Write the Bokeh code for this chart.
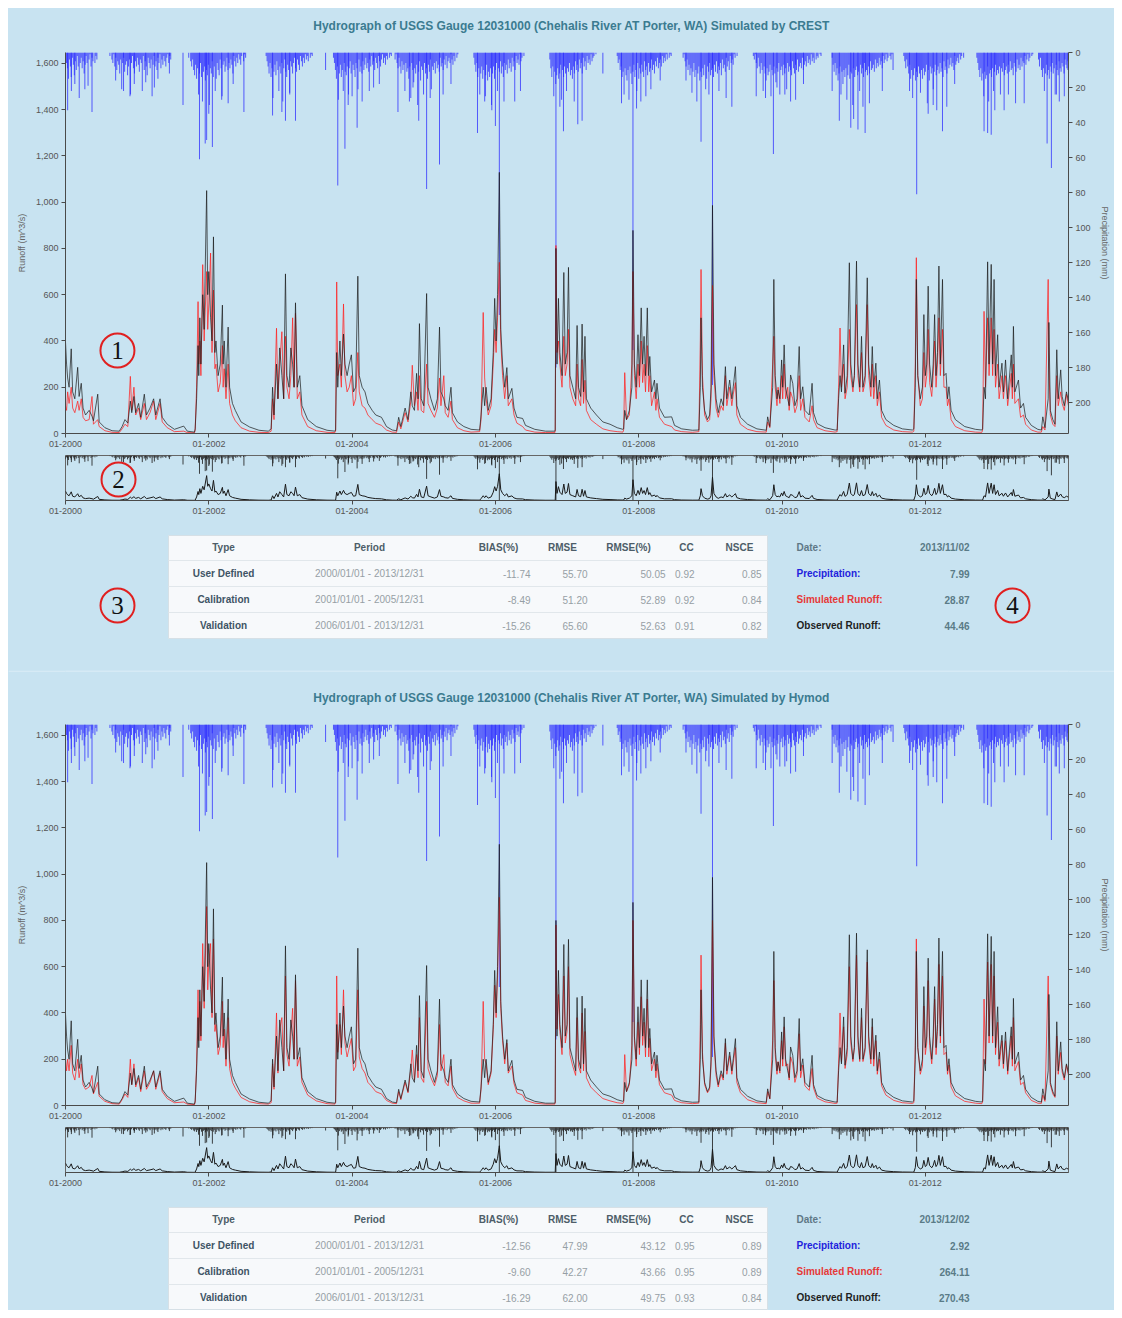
import numpy as np
from bokeh.plotting import figure
from bokeh.layouts import column
from bokeh.models import Range1d, LinearAxis, FixedTicker, DatetimeTickFormatter, NumeralTickFormatter
from bokeh.embed import file_html
from bokeh.resources import INLINE
from bokeh.core.properties import value

# ---------------- DATA ----------------
# runoff key points, decimal years
runoff_t = [
 2000.000,2000.015,2000.030,2000.050,2000.080,2000.100,2000.130,2000.170,2000.190,2000.220,2000.245,2000.280,2000.330,2000.370,2000.390,2000.450,2000.470,2000.550,2000.650,2000.750,
 2000.790,2000.830,2000.870,2000.905,2000.925,2000.955,2000.980,2001.020,2001.050,2001.100,2001.130,2001.180,2001.230,2001.260,2001.320,2001.350,2001.420,2001.520,2001.650,2001.700,2001.800,
 2001.810,2001.830,2001.850,2001.860,2001.875,2001.890,2001.915,2001.935,2001.970,2001.985,2002.000,2002.025,2002.045,2002.065,2002.085,2002.100,2002.130,2002.160,2002.190,2002.200,2002.215,2002.240,2002.270,2002.290,2002.330,2002.370,2002.450,2002.570,2002.700,2002.830,
 2002.870,2002.890,2002.910,2002.945,2002.965,2002.990,2003.020,2003.045,2003.070,2003.090,2003.120,2003.145,2003.170,2003.190,2003.210,2003.235,2003.270,2003.300,2003.380,2003.500,2003.650,2003.760,
 2003.770,2003.785,2003.800,2003.830,2003.850,2003.880,2003.900,2003.930,2003.960,2003.990,2004.020,2004.050,2004.080,2004.100,2004.140,2004.180,2004.220,2004.280,2004.330,2004.410,2004.480,2004.560,
 2004.620,2004.650,2004.680,2004.740,2004.780,2004.820,2004.840,2004.870,2004.900,2004.920,2004.940,2004.965,2005.000,2005.040,2005.060,2005.100,2005.150,2005.190,2005.220,2005.240,2005.280,2005.300,2005.340,2005.380,2005.400,2005.470,2005.560,2005.660,
 2005.780,2005.800,2005.830,2005.850,2005.870,2005.900,2005.940,2005.970,2005.990,2006.010,2006.030,2006.055,2006.075,2006.100,2006.130,2006.160,2006.180,2006.230,2006.260,2006.300,2006.380,2006.420,2006.550,2006.700,2006.830,
 2006.835,2006.845,2006.860,2006.880,2006.900,2006.930,2006.955,2006.975,2007.000,2007.020,2007.040,2007.080,2007.120,2007.140,2007.160,2007.190,2007.210,2007.230,2007.250,2007.270,2007.330,2007.410,2007.500,2007.600,2007.700,2007.780,
 2007.790,2007.805,2007.830,2007.870,2007.905,2007.920,2007.940,2007.965,2007.990,2008.010,2008.035,2008.055,2008.075,2008.095,2008.120,2008.140,2008.155,2008.180,2008.220,2008.240,2008.255,2008.290,2008.360,2008.460,2008.500,2008.600,2008.750,
 2008.840,2008.860,2008.870,2008.890,2008.920,2008.960,2008.990,2009.010,2009.030,2009.050,2009.080,2009.110,2009.150,2009.180,2009.210,2009.230,2009.270,2009.300,2009.320,2009.350,2009.370,2009.420,2009.520,2009.650,2009.780,
 2009.800,2009.830,2009.870,2009.886,2009.905,2009.930,2009.945,2009.970,2009.995,2010.010,2010.030,2010.050,2010.080,2010.100,2010.120,2010.150,2010.180,2010.210,2010.240,2010.260,2010.290,2010.320,2010.380,2010.420,2010.440,2010.490,2010.600,2010.740,
 2010.770,2010.790,2010.810,2010.830,2010.860,2010.880,2010.910,2010.940,2010.960,2010.990,2011.010,2011.040,2011.060,2011.085,2011.110,2011.130,2011.160,2011.190,2011.210,2011.240,2011.260,2011.280,2011.310,2011.330,2011.360,2011.390,2011.450,2011.560,2011.680,2011.820,
 2011.840,2011.860,2011.875,2011.895,2011.930,2011.960,2011.980,2012.000,2012.020,2012.040,2012.060,2012.090,2012.110,2012.130,2012.150,2012.170,2012.190,2012.210,2012.240,2012.260,2012.290,2012.310,2012.330,2012.360,2012.420,2012.550,2012.700,2012.790,
 2012.800,2012.820,2012.840,2012.870,2012.890,2012.920,2012.940,2012.960,2012.980,2013.010,2013.030,2013.070,2013.090,2013.120,2013.150,2013.200,2013.215,2013.230,2013.250,2013.300,2013.330,2013.370,2013.400,2013.480,2013.570,
 2013.620,2013.640,2013.670,2013.715,2013.725,2013.745,2013.780,2013.810,2013.835,2013.855,2013.890,2013.910,2013.940,2013.970,2013.998]

runoff_obs = [
 395,300,240,200,366,180,150,286,160,217,110,80,100,75,55,170,50,25,12,10,
 30,60,45,140,90,160,90,130,70,170,80,110,150,80,150,70,40,18,32,10,6,
 20,150,380,250,500,300,600,450,1050,600,700,500,400,850,350,400,250,300,555,300,400,200,460,200,130,100,50,28,14,10,
 20,200,80,300,150,370,250,150,690,250,200,370,300,200,565,200,250,120,60,30,14,10,
 15,350,200,400,250,430,300,250,300,340,180,200,680,250,200,180,130,100,80,70,30,15,
 12,70,30,110,60,180,120,100,260,150,475,150,120,605,200,150,100,150,460,180,150,120,100,200,90,50,30,18,
 15,80,200,120,200,100,150,350,584,400,600,1129,450,300,200,285,150,195,110,70,65,35,18,10,10,
 15,800,300,584,350,250,696,300,350,718,250,200,150,467,200,160,473,180,420,150,110,80,50,40,25,18,
 20,100,60,100,200,878,300,200,427,250,543,300,420,250,543,250,333,180,231,150,217,110,70,72,35,20,14,
 15,200,500,200,100,60,80,200,986,300,150,90,150,120,289,150,231,150,202,289,120,70,40,20,14,
 72,30,200,666,250,150,188,150,318,200,383,200,150,120,253,217,120,150,376,150,202,100,80,217,90,43,25,15,
 15,150,250,180,383,174,250,738,300,200,250,745,300,200,420,200,250,673,300,200,376,200,304,150,231,100,60,35,20,15,
 20,200,666,250,150,200,514,250,300,637,300,200,300,514,250,350,724,300,666,250,260,150,202,100,60,30,18,15,
 20,200,150,742,300,731,300,666,250,427,200,304,180,318,150,340,200,463,180,231,110,130,70,35,18,
 15,72,25,150,480,100,60,40,362,150,275,160,120,180,140]

runoff_crest = [
 120,100,180,130,200,110,90,140,100,150,70,55,60,160,40,60,30,12,5,4,
 20,40,30,247,100,200,80,110,60,130,60,90,140,60,130,50,25,8,10,4,3,
 15,200,570,300,400,250,730,400,700,450,560,780,350,620,280,300,180,220,380,200,280,150,300,130,80,55,25,10,5,4,
 10,150,60,455,150,300,440,150,420,200,150,250,500,200,520,150,180,80,30,12,5,4,
 10,655,250,300,200,560,250,180,200,250,120,150,350,180,120,110,80,60,45,35,15,6,
 5,50,20,90,50,140,295,120,180,100,250,100,90,300,130,100,70,110,240,120,250,90,70,140,60,25,12,6,
 8,60,523,240,150,80,120,300,450,350,500,740,400,250,150,250,120,150,80,45,30,15,6,4,4,
 10,813,350,400,300,200,420,250,300,450,200,150,120,300,150,120,320,130,230,100,60,40,20,12,8,6,
 15,263,60,80,300,700,250,150,300,200,400,220,300,180,380,180,250,120,180,100,150,70,40,30,15,8,5,
 8,400,709,250,80,50,60,150,640,250,110,70,120,100,250,120,200,120,170,220,80,40,18,8,6,
 50,25,300,420,200,120,200,130,250,150,300,150,200,100,180,150,90,120,250,100,150,70,50,120,60,25,12,6,
 8,200,456,200,300,150,200,450,250,180,250,557,250,180,350,180,220,557,250,160,300,150,250,120,180,70,35,15,8,6,
 10,300,760,250,120,150,350,200,250,450,220,160,250,400,200,300,500,250,450,200,200,120,150,60,30,12,6,5,
 15,528,200,500,250,500,250,450,200,300,150,250,150,250,120,260,150,300,130,150,70,80,40,15,6,
 6,30,15,666,300,80,40,30,250,120,180,130,100,170,120]

runoff_hymod = [
 200,150,200,150,260,140,110,200,120,180,90,70,80,130,50,100,40,18,8,6,
 25,50,35,200,90,180,80,120,60,150,70,100,150,70,140,60,30,12,15,6,4,
 15,180,500,280,450,280,700,420,860,500,620,700,380,720,320,350,220,260,450,250,330,170,380,160,100,75,35,16,8,6,
 12,180,70,400,140,330,380,150,560,220,170,300,420,200,540,170,210,100,45,20,8,6,
 12,560,230,350,220,500,270,210,250,290,150,170,500,210,160,140,100,80,60,50,22,10,
 8,60,25,100,55,160,240,110,220,120,380,120,100,450,160,120,85,130,350,150,220,100,85,170,75,35,20,10,
 10,70,450,200,180,90,140,330,520,380,560,900,420,280,180,270,140,170,95,55,45,22,10,6,6,
 12,780,330,480,320,220,560,270,320,600,220,170,130,380,170,140,400,150,320,120,80,55,30,20,12,9,
 15,220,60,90,260,800,280,170,360,220,470,260,360,210,460,210,290,150,200,120,180,90,55,45,22,12,8,
 10,350,650,230,90,55,70,170,800,270,130,80,135,110,270,135,215,135,185,250,100,55,25,12,8,
 60,28,280,540,220,135,190,140,280,170,340,170,180,110,210,180,100,135,310,120,175,85,65,160,75,32,16,9,
 10,180,400,190,340,160,220,600,270,190,250,650,270,190,380,190,235,620,270,180,340,170,280,135,200,85,45,22,12,9,
 12,260,720,250,135,170,430,220,270,540,260,180,270,460,220,320,610,270,560,220,230,135,175,80,42,18,10,8,
 15,460,180,620,270,610,270,560,220,360,170,280,160,280,135,300,170,380,150,190,90,100,55,22,10,
 9,45,18,560,380,90,50,35,300,135,230,145,110,175,130]

# notable precipitation spikes (decimal year, mm)
precip_peak_t = [2000.03,2000.08,2000.13,2000.27,2000.37,
 2000.70,2000.81,2000.90,2000.96,2001.12,2001.24,2001.29,2001.45,2001.64,
 2001.87,2001.95,2001.97,2002.00,2002.05,2002.18,2002.27,2002.34,2002.49,
 2002.89,2003.02,2003.07,2003.13,2003.21,2003.63,
 2003.80,2003.90,2003.95,2004.07,2004.14,2004.24,2004.30,2004.38,
 2004.64,2004.80,2004.85,2004.93,2005.04,2005.09,2005.22,2005.27,2005.38,
 2005.75,2005.86,2005.95,2006.00,2006.055,2006.12,2006.27,2006.35,
 2006.845,2006.90,2006.95,2007.10,2007.15,2007.21,2007.50,
 2007.76,2007.920,2007.97,2008.03,2008.10,2008.17,2008.30,
 2008.66,2008.87,2008.98,2009.030,2009.12,2009.22,2009.30,
 2009.64,2009.77,2009.88,2009.93,2010.04,2010.12,2010.19,2010.30,
 2010.70,2010.80,2010.96,2011.00,2011.06,2011.13,2011.16,2011.22,2011.40,2011.55,
 2011.78,2011.88,2012.04,2012.11,2012.16,2012.24,2012.30,2012.41,
 2012.82,2012.87,2012.92,2012.97,2013.10,2013.16,2013.26,2013.38,
 2013.70,2013.76,2013.83,2013.87,2013.94,2013.99]
precip_peak_mm = [33,14,18,21,34,
 16,22,25,18,17,20,15,12,30,
 61,52,50,35,54,27,29,18,34,
 36,34,39,24,39,10,
 76,55,24,43,28,22,20,18,
 34,28,20,39,78,26,64,24,18,
 46,25,33,42,150,28,28,22,
 180,31,45,28,41,39,12,
 29,170,32,28,25,21,16,
 16,51,24,190,22,26,31,
 25,26,58,20,24,28,27,18,
 22,39,43,38,44,31,46,29,22,10,
 22,81,35,30,33,45,31,18,
 45,46,47,33,33,24,29,29,
 52,66,24,28,25,10]

# background daily-rain comb per wet season, one value every 5 days (mm)
precip_step_days = 5
precip_season_start = [2000.00, 2000.62, 2001.72, 2002.80, 2003.74, 2004.60, 2005.70, 2006.76,
                       2007.70, 2008.62, 2009.60, 2010.70, 2011.70, 2012.72, 2013.58]
precip_season_mm = [
 [12,6,9,15,4,8,22,3,7,13,5,10,2,8,26,6,3,9,5,12,7,2,6,19,4,1,8,3,5,0,6,2,4],
 [2,0,4,6,1,8,3,10,5,7,12,4,21,6,3,11,7,5,13,8,4,24,6,2,9,12,5,8,3,7,11,4,6,22,2,10,5,8,13,3,6,9,4,25,7,2,8,5,10,3,6,1,9,4,7,2,5,8,3,1,6,2,4,0],
 [3,0,5,8,4,10,13,7,15,9,24,12,6,14,28,11,8,16,10,13,7,30,9,12,5,14,8,22,15,6,10,13,4,9,25,7,5,11,8,3,10,6,9,4,7,12,2,5,8,3,6,1,4,7,2,0,5,1,3,0],
 [2,5,8,12,6,14,9,26,11,7,13,5,10,22,8,12,6,28,9,4,11,14,7,10,23,5,8,12,6,3,9,11,4,7,10,2,5,8,3,6,1,4,2,5,0,3,1,2],
 [3,6,10,15,8,27,12,7,14,10,22,6,11,13,8,30,9,5,12,25,7,10,14,6,9,21,4,11,8,12,5,10,7,3,9,6,11,4,8,2,7,5,10,3,6,9,2,5,8,4,1,6,3,7,2,4,0,3,1,2],
 [4,1,6,9,3,8,12,5,10,7,22,6,11,9,15,8,26,6,10,17,9,12,7,30,11,5,16,8,10,24,6,12,9,15,7,11,4,21,8,10,6,12,5,9,7,11,3,8,6,10,4,7,2,9,5,3,6,1,4,7,2,5,0,3,1],
 [3,7,11,6,14,9,24,12,8,15,10,28,13,7,16,11,14,9,30,12,8,15,10,6,22,9,11,5,12,8,14,6,10,7,12,4,9,6,11,3,8,5,10,2,6,4,7,1,5,3,0,2],
 [4,9,14,8,25,11,18,13,9,15,12,7,27,10,14,8,12,22,9,11,6,13,10,15,8,12,5,10,7,11,4,9,6,12,3,8,5,10,2,6,4,7,1,5,3,2,0,1],
 [2,6,4,10,8,14,11,24,9,13,16,10,27,8,12,18,11,7,14,10,22,6,15,9,12,7,11,14,5,10,8,13,6,11,9,4,10,7,12,5,8,3,9,6,4,8,2,6,3,5,1,4,0,3,1,2],
 [3,1,5,8,4,10,7,13,9,23,11,6,14,10,28,12,8,16,11,14,9,13,7,21,15,8,11,6,13,10,9,14,7,11,5,12,8,10,6,13,4,9,7,11,3,8,5,10,2,6,4,7,1,3,0,2],
 [2,4,1,6,9,3,8,12,6,10,22,8,12,16,9,13,11,7,25,10,13,8,12,17,9,11,6,24,10,8,13,7,12,9,21,6,11,8,10,13,5,9,12,7,10,4,11,8,6,9,3,10,7,5,8,2,6,4,7,1,5,3,6,0,4,2,3,0,1,2],
 [3,7,11,6,13,9,16,12,8,24,11,18,10,14,9,27,13,7,15,11,12,30,9,14,10,8,13,11,22,7,12,9,14,6,11,10,13,8,12,5,10,9,7,11,4,9,6,8,3,7,5,9,2,6,4,1,5,3,0,2,4,1],
 [2,5,9,4,8,12,7,15,10,26,13,9,16,11,14,8,12,23,10,15,9,13,11,7,29,10,16,8,12,9,21,11,7,13,10,8,12,6,11,9,14,5,10,8,12,4,9,7,3,8,6,10,2,7,5,3,6,1,4,2,0,3],
 [3,6,10,14,9,16,12,25,11,15,13,8,28,12,10,14,9,22,11,7,13,10,12,8,24,9,11,6,13,10,8,12,7,11,5,10,9,13,6,8,11,4,9,7,10,3,8,5,6,2,7,4,1,5,3,0,2,1],
 [4,8,3,10,14,9,22,12,7,13,10,15,8,11,6,12,9,24,7,10,13,5,9,11,6,8,12,4,7,9,5]]

x_tick_years = [2000, 2002, 2004, 2006, 2008, 2010, 2012]
runoff_ticks = [0, 200, 400, 600, 800, 1000, 1200, 1400, 1600]
precip_ticks = [0, 20, 40, 60, 80, 100, 120, 140, 160, 180, 200]

titles = ["Hydrograph of USGS Gauge 12031000 (Chehalis River AT Porter, WA) Simulated by CREST",
          "Hydrograph of USGS Gauge 12031000 (Chehalis River AT Porter, WA) Simulated by Hymod"]
table_header = ["Type", "Period", "BIAS(%)", "RMSE", "RMSE(%)", "CC", "NSCE"]
table_type = ["User Defined", "Calibration", "Validation"]
table_period = ["2000/01/01 - 2013/12/31", "2001/01/01 - 2005/12/31", "2006/01/01 - 2013/12/31"]
crest_bias = ["-11.74", "-8.49", "-15.26"]
crest_rmse = ["55.70", "51.20", "65.60"]
crest_rmsep = ["50.05", "52.89", "52.63"]
crest_cc = ["0.92", "0.92", "0.91"]
crest_nsce = ["0.85", "0.84", "0.82"]
hymod_bias = ["-12.56", "-9.60", "-16.29"]
hymod_rmse = ["47.99", "42.27", "62.00"]
hymod_rmsep = ["43.12", "43.66", "49.75"]
hymod_cc = ["0.95", "0.95", "0.93"]
hymod_nsce = ["0.89", "0.89", "0.84"]
info_labels = ["Date:", "Precipitation:", "Simulated Runoff:", "Observed Runoff:"]
crest_info = ["2013/11/02", "7.99", "28.87", "44.46"]
hymod_info = ["2013/12/02", "2.92", "264.11", "270.43"]

# ---------------- helpers ----------------
BG = "#c8e3f1"
SEP = "#d6eaf5"
FONT = "Liberation Sans"
T0 = np.datetime64("2000-01-01T00:00:00", "ms")
EPOCH = np.datetime64("1970-01-01T00:00:00", "ms")


def to_dt(t):
    t = np.asarray(t, dtype=float)
    return T0 + np.round((t - 2000.0) * 365.25 * 86400000.0).astype("int64").astype("timedelta64[ms]")


def ms_of(d):
    return float((np.datetime64(d, "ms") - EPOCH).astype("int64"))


XS = ms_of("2000-01-01")
XE = ms_of("2013-12-31")
XTICKS = [ms_of("%d-01-01" % y) for y in x_tick_years]

n = min(len(runoff_t), len(runoff_obs), len(runoff_crest), len(runoff_hymod))
rt = to_dt(runoff_t[:n])
obs = runoff_obs[:n]
crest = runoff_crest[:n]
hymod = runoff_hymod[:n]

pt = list(precip_peak_t[:len(precip_peak_mm)])
pm = list(precip_peak_mm[:len(precip_peak_t)])
for start, vals in zip(precip_season_start, precip_season_mm):
    for i, v in enumerate(vals):
        if v > 0:
            pt.append(start + i * precip_step_days / 365.25)
            pm.append(v)
ptd = to_dt(pt)

fmt = DatetimeTickFormatter(years="%m-%Y", months="%m-%Y", days="%m-%Y", hours="%m-%Y",
                            minutes="%m-%Y", seconds="%m-%Y", milliseconds="%m-%Y")


def style_axis(ax):
    ax.axis_line_color = "#4a4a4a"
    ax.major_tick_line_color = "#4a4a4a"
    ax.minor_tick_line_color = None
    ax.major_tick_out = 4
    ax.major_tick_in = 0
    ax.major_label_text_font = FONT
    ax.major_label_text_font_size = "9px"
    ax.major_label_text_color = "#555555"
    ax.major_label_standoff = 3
    ax.axis_label_text_font = FONT
    ax.axis_label_text_font_size = "9px"
    ax.axis_label_text_font_style = "normal"
    ax.axis_label_text_color = "#666666"
    ax.axis_label_standoff = 6


def base_fig(h, **kw):
    # transparent figures on a blue page container -> no seams between frame and border
    p = figure(width=1106, height=h, output_backend="svg", toolbar_location=None, **kw)
    p.background_fill_color = None
    p.border_fill_color = None
    p.outline_line_color = None
    p.grid.visible = False
    return p


def txt(p, xs, ys, texts, align, color, bold=False, size="10px", font=FONT):
    p.text(x=xs, y=ys, text=texts, text_align=align, text_baseline="middle",
           text_font=value(font), text_font_size=size, text_color=color,
           text_font_style="bold" if bold else "normal")


def pixel_fig(h):
    # the column aligns frames, so the frame spans x = 57..1060 of the figure;
    # use figure-pixel coordinates for page furniture (titles, tables)
    return base_fig(h, x_range=Range1d(57, 1060), y_range=Range1d(h, 0),
                    min_border_left=57, min_border_right=46, min_border_top=0, min_border_bottom=0,
                    x_axis_location=None, y_axis_location=None)


def make_title(title, h, y):
    p = pixel_fig(h)
    txt(p, [563], [y], [title], "center", "#3b7b90", bold=True, size="12px")
    return p


def make_main(sim, circle):
    p = base_fig(409, x_axis_type="datetime", x_range=Range1d(XS, XE), y_range=Range1d(0, 1647),
                 min_border_left=57, min_border_right=46, min_border_top=8, min_border_bottom=20)
    p.extra_y_ranges = {"precip": Range1d(217.7, 0)}
    p.segment(x0=ptd, y0=0, x1=ptd, y1=pm, y_range_name="precip",
              line_color="#2a2aff", line_width=1, line_alpha=0.75)
    p.line(rt, sim, line_color="#ff2222", line_width=1, line_alpha=0.75)
    p.line(rt, obs, line_color="#1a1a1a", line_width=1, line_alpha=0.7)
    lax = p.left[0]
    lax.ticker = FixedTicker(ticks=runoff_ticks)
    lax.formatter = NumeralTickFormatter(format="0,0")
    lax.axis_label = "Runoff (m^3/s)"
    p.xaxis[0].ticker = FixedTicker(ticks=XTICKS)
    p.xaxis[0].formatter = fmt
    rax = LinearAxis(y_range_name="precip", ticker=FixedTicker(ticks=precip_ticks),
                     axis_label="Precipitation (mm)")
    p.add_layout(rax, "right")
    for ax in [lax, p.xaxis[0], rax]:
        style_axis(ax)
    if circle:
        cx = to_dt([2000.725])
        p.scatter(x=cx, y=[359], marker="circle", size=34, fill_alpha=0,
                  line_color="#e02020", line_width=2)
        p.text(x=cx, y=[359], text=["1"], text_font=value("Liberation Serif"), text_font_size="25px",
               text_align="center", text_baseline="middle", text_color="#111111")
    return p


def make_nav(circle):
    p = base_fig(71, x_axis_type="datetime", x_range=Range1d(XS, XE), y_range=Range1d(0, 1900),
                 y_axis_location=None,
                 min_border_left=57, min_border_right=46, min_border_top=2, min_border_bottom=24)
    p.outline_line_color = "#666666"
    p.extra_y_ranges = {"precip": Range1d(150, 0)}
    p.segment(x0=ptd, y0=0, x1=ptd, y1=pm, y_range_name="precip",
              line_color="#222222", line_width=1, line_alpha=0.85)
    p.line(rt, obs, line_color="#1a1a1a", line_width=1)
    p.xaxis[0].ticker = FixedTicker(ticks=XTICKS)
    p.xaxis[0].formatter = fmt
    style_axis(p.xaxis[0])
    if circle:
        cx = to_dt([2000.74])
        p.scatter(x=cx, y=[887], marker="circle", size=34, fill_alpha=0,
                  line_color="#e02020", line_width=2)
        p.text(x=cx, y=[887], text=["2"], text_font=value("Liberation Serif"), text_font_size="25px",
               text_align="center", text_baseline="middle", text_color="#111111")
    return p


def make_table(h, bias, rmse, rmsep, cc, nsce, info, circles):
    p = pixel_fig(h)
    bottom = min(114, h - 1)
    p.quad(left=160, right=759, top=11, bottom=bottom, fill_color="#f7f9fb", line_color="#d6e0e6")
    p.segment(x0=[160] * 3, x1=[759] * 3, y0=[36, 62, 88], y1=[36, 62, 88], line_color="#e1e7eb")
    rows_y = [49, 75, 101]
    txt(p, [215, 361, 490, 554, 620, 678, 731], [23] * 7, table_header, "center", "#4d5d68", bold=True)
    txt(p, [215] * 3, rows_y, table_type, "center", "#3e5465", bold=True)
    txt(p, [361] * 3, rows_y, table_period, "center", "#969fa5")
    txt(p, [522] * 3, rows_y, bias, "right", "#969fa5")
    txt(p, [579] * 3, rows_y, rmse, "right", "#969fa5")
    txt(p, [657] * 3, rows_y, rmsep, "right", "#969fa5")
    txt(p, [686] * 3, rows_y, cc, "right", "#969fa5")
    txt(p, [753] * 3, rows_y, nsce, "right", "#969fa5")
    iy = [23, 49, 75, 101]
    for lab, yy, col in zip(info_labels, iy, ["#5f7886", "#2222dd", "#e63838", "#1e1e1e"]):
        txt(p, [788], [yy], [lab], "left", col, bold=True)
    txt(p, [961] * 4, iy, info, "right", "#5a7b87", bold=True)
    if circles:
        p.scatter(x=[109, 1004], y=[81, 81], marker="circle", size=34, fill_alpha=0,
                  line_color="#e02020", line_width=2)
        txt(p, [109, 1004], [81, 81], ["3", "4"], "center", "#111111", size="25px", font="Liberation Serif")
    return p


def make_spacer():
    p = pixel_fig(7)
    p.border_fill_color = SEP
    p.background_fill_color = SEP
    return p


layout = column(
    make_title(titles[0], 36, 17),
    make_main(crest, True),
    make_nav(True),
    make_table(141, crest_bias, crest_rmse, crest_rmsep, crest_cc, crest_nsce, crest_info, True),
    make_spacer(),
    make_title(titles[1], 44, 25),
    make_main(hymod, False),
    make_nav(False),
    make_table(114, hymod_bias, hymod_rmse, hymod_rmsep, hymod_cc, hymod_nsce, hymod_info, False),
    spacing=0,
    margin=(8, 8, 8, 8),
    styles={"background-color": BG},
)

open("out.html", "w").write(file_html(layout, INLINE, "Hydrograph"))
